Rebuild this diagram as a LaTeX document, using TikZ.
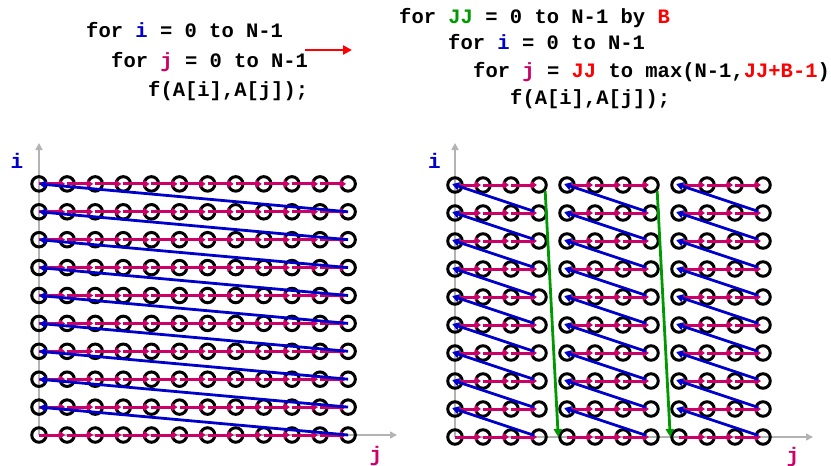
\documentclass[tikz,border=0pt]{standalone}
\usepackage{fontspec}
\setmainfont{Liberation Mono}
\usetikzlibrary{arrows.meta}
\definecolor{iblue}{HTML}{0000CC}
\definecolor{jpink}{HTML}{CC0066}
\definecolor{jjgreen}{HTML}{009900}
\definecolor{bred}{HTML}{FF0000}
\definecolor{axgray}{HTML}{B3B3B3}
\begin{document}
\begin{tikzpicture}[x=1pt,y=-1pt,
  codetext/.style={anchor=base west,inner sep=0pt,font=\fontsize{20.5}{24}\selectfont\bfseries},
  axlabel/.style={inner sep=0pt,font=\fontsize{21}{24}\selectfont\bfseries},
  dot/.style={circle,draw=black,line width=3pt,minimum size=14.5pt,inner sep=0pt},
  axis/.style={draw=axgray,line width=1.6pt,-{Triangle[length=7pt,width=7pt]}},
  pinkarrow/.style={draw=jpink,line width=3pt,shorten >=2pt,-{Triangle[length=6pt,width=8pt]}},
  bluearrow/.style={draw=iblue,line width=2.8pt,-{Triangle[length=7pt,width=8pt]}},
  greenarrow/.style={draw=jjgreen,line width=2.8pt,-{Triangle[length=8pt,width=8pt]}},
  redarrow/.style={draw=bred,line width=2.8pt,-{Triangle[length=9pt,width=9pt]}}]
\useasboundingbox (0,0) rectangle (831,466);

% code, left
\node[codetext] (l1) at (86,37.5) {for \textcolor{iblue}{i} = 0 to N-1};
\node[codetext] (l2) at (111,67) {for \textcolor{jpink}{j} = 0 to N-1};
\node[codetext] (l3) at (148,96.5) {f(A[i],A[j]);};
% code, right
\node[codetext] (r1) at (399,23) {for \textcolor{jjgreen}{JJ} = 0 to N-1 by \textcolor{bred}{B}};
\node[codetext] (r2) at (448,49.5) {for \textcolor{iblue}{i} = 0 to N-1};
\node[codetext] (r3) at (473,77.5) {for \textcolor{jpink}{j} = \textcolor{bred}{JJ} to max(N-1,\textcolor{bred}{JJ+B-1})};
\node[codetext] (r4) at (510,104) {f(A[i],A[j]);};
% red arrow
\coordinate (ra1) at (305,50);
\coordinate (ra2) at (352,50);
\draw[redarrow] (ra1) -- (ra2);

% axes
\coordinate (LO) at (39,435);
\coordinate (LyT) at (39,143);
\coordinate (LxR) at (397,435);
\coordinate (RO) at (455,437);
\coordinate (RyT) at (455,143);
\coordinate (RxR) at (813,437);
\draw[axis] (LO) -- (LyT);
\draw[axis] (LO) -- (LxR);
\draw[axis] (RO) -- (RyT);
\draw[axis] (RO) -- (RxR);
\node[axlabel,text=iblue,anchor=base] (li) at (17,168) {i};
\node[axlabel,text=jpink,anchor=north] (lj) at (376,446) {j};
\node[axlabel,text=iblue,anchor=base] (ri) at (434.5,168) {i};
\node[axlabel,text=jpink,anchor=north] (rj) at (793,447) {j};

% left grid
\foreach \r in {0,...,9}
  \foreach \c in {0,...,11}
    \node[dot] (L-\r-\c) at ({39+28.1*\c},{435-27.9*\r}) {};
\foreach \r in {0,...,9}
  \foreach \c in {0,...,10} {
    \pgfmathtruncatemacro\nx{\c+1}
    \draw[pinkarrow] (L-\r-\c.center) -- (L-\r-\nx.center);
  }
\foreach \r in {0,...,8} {
  \pgfmathtruncatemacro\nr{\r+1}
  \draw[bluearrow] (L-\r-11.center) -- (L-\nr-0.center);
}

% right grid
\foreach \r in {0,...,9}
  \foreach \c in {0,...,11}
    \node[dot] (R-\r-\c) at ({455+28*\c},{437-28*\r}) {};
\foreach \r in {0,...,9}
  \foreach \b in {0,1,2}
    \foreach \k in {0,1,2} {
      \pgfmathtruncatemacro\a{4*\b+\k}
      \pgfmathtruncatemacro\nx{\a+1}
      \draw[pinkarrow] (R-\r-\a.center) -- (R-\r-\nx.center);
    }
\foreach \b in {0,1,2}
  \foreach \r in {0,...,8} {
    \pgfmathtruncatemacro\s{4*\b+3}
    \pgfmathtruncatemacro\t{4*\b}
    \pgfmathtruncatemacro\nr{\r+1}
    \draw[bluearrow,shorten <=5pt,shorten >=-3pt] (R-\r-\s.center) -- (R-\nr-\t.center);
  }
\draw[greenarrow] (R-9-3.south east) -- (R-0-4.west);
\draw[greenarrow] (R-9-7.south east) -- (R-0-8.west);
\end{tikzpicture}
\end{document}
